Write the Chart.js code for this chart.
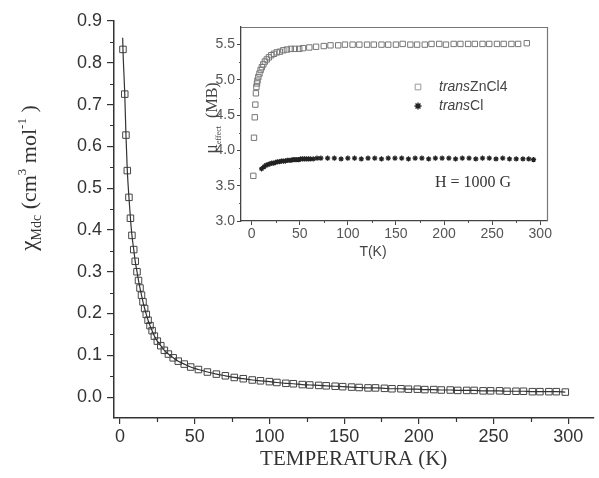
<!DOCTYPE html>
<html lang="es">
<head>
<meta charset="UTF-8">
<title>Susceptibilidad magnetica vs temperatura</title>
<script src="https://cdn.jsdelivr.net/npm/chart.js"></script>
<style>
  body { margin: 0; background: #fff; }
  #wrap { position: relative; width: 599px; height: 478px; }
  #main { position: absolute; left: 0; top: 0; }
  #inset { position: absolute; left: 195px; top: 15px; }
</style>
</head>
<body>
<div id="wrap">
  <canvas id="main" width="599" height="478"></canvas>
  <canvas id="inset" width="370" height="250"></canvas>
</div>

<script>
// main plot: chi_M vs T
const mainT = [2.0, 3.2, 4.0, 4.9, 6.0, 7.0, 8.0, 9.2, 10.2, 11.4, 12.4, 13.4, 14.4, 15.4, 16.5, 17.6, 18.8, 20.1, 21.5, 23.0,
  25.0, 27.3, 29.7, 32.4, 35.6, 39.0, 43.0, 47.3, 52.5, 58.5, 64.5, 70.5, 76.5, 82.5, 88.5,
  94, 100, 105, 111, 116, 122, 127, 133, 138, 144, 149, 155, 160, 166, 171, 177, 182, 188, 193, 199,
  204, 210, 215, 221, 226, 232, 237, 243, 248, 254, 259, 265, 270, 276, 281, 287, 292, 298];
const mainChi = [0.832, 0.725, 0.627, 0.542, 0.478, 0.428, 0.387, 0.353, 0.325, 0.300, 0.279, 0.261, 0.244, 0.228, 0.212, 0.198, 0.184, 0.171, 0.159, 0.146,
  0.134, 0.123, 0.112, 0.103, 0.094, 0.086, 0.079, 0.072, 0.066, 0.060, 0.055, 0.051, 0.047, 0.044, 0.041,
  0.039, 0.037, 0.035, 0.033, 0.032, 0.030, 0.029, 0.028, 0.027, 0.026, 0.025, 0.024, 0.023, 0.022, 0.022, 0.021, 0.020, 0.020, 0.019, 0.019,
  0.018, 0.018, 0.017, 0.017, 0.016, 0.016, 0.016, 0.015, 0.015, 0.015, 0.014, 0.014, 0.014, 0.013, 0.013, 0.013, 0.013, 0.012];
// fitted curve starts a little above the first point
const fitT = [1.8].concat(mainT);
const fitChi = [0.86].concat(mainChi);

const mainXTicks = [0, 50, 100, 150, 200, 250, 300];
const mainXMinor = [25, 75, 125, 175, 225, 275];
const mainYTicks = [0.0, 0.1, 0.2, 0.3, 0.4, 0.5, 0.6, 0.7, 0.8, 0.9];
const mainYMinor = [0.05, 0.15, 0.25, 0.35, 0.45, 0.55, 0.65, 0.75, 0.85];

// inset: mu_eff vs T
const znT = [1.8, 2.5, 3.3, 3.9, 4.5, 5.0, 5.6, 6.1, 7.0, 8.2, 9.4, 10.7, 12.2, 13.8, 15.8, 18.0, 20.5, 23.2, 26.2, 29.4,
  33.0, 36.7, 40.8, 45.0, 49.5, 53.4, 60, 67, 75, 82, 90, 97, 105, 112, 120, 127, 135, 142, 150, 157,
  165, 172, 180, 187, 195, 202, 210, 217, 225, 232, 240, 247, 255, 262, 270, 277, 286];
const znMu = [3.64, 4.18, 4.47, 4.65, 4.81, 4.90, 4.95, 4.99, 5.04, 5.09, 5.14, 5.18, 5.22, 5.26, 5.29, 5.32, 5.35, 5.37, 5.39, 5.40,
  5.42, 5.43, 5.44, 5.44, 5.44, 5.45, 5.46, 5.47, 5.48, 5.49, 5.49, 5.50, 5.50, 5.50, 5.50, 5.50, 5.50, 5.50, 5.50, 5.51,
  5.50, 5.50, 5.50, 5.51, 5.51, 5.50, 5.51, 5.51, 5.51, 5.51, 5.51, 5.51, 5.51, 5.51, 5.51, 5.51, 5.52];
const clT = [10.4, 13, 15, 17, 19, 21, 23, 25, 27, 29, 31, 33, 35, 37, 39, 41, 43, 45, 47, 49,
  51, 53, 55, 57, 59, 61, 64, 68, 72, 79, 86, 93, 100, 107, 114, 121, 128, 135, 142, 149,
  156, 163, 170, 177, 184, 191, 198, 205, 212, 219, 226, 233, 240, 247, 254, 261, 268, 275, 282, 288, 293];
const clMu = [3.74, 3.77, 3.79, 3.80, 3.81, 3.82, 3.82, 3.83, 3.84, 3.84, 3.85, 3.85, 3.85, 3.86, 3.86, 3.86, 3.87, 3.87, 3.87, 3.87,
  3.88, 3.88, 3.88, 3.88, 3.88, 3.88, 3.88, 3.89, 3.89, 3.89, 3.89, 3.88, 3.89, 3.89, 3.88, 3.89, 3.89, 3.88, 3.89, 3.89,
  3.89, 3.88, 3.89, 3.89, 3.88, 3.89, 3.89, 3.89, 3.88, 3.89, 3.89, 3.88, 3.89, 3.89, 3.88, 3.89, 3.88, 3.88, 3.88, 3.88, 3.87];

const insetXTicks = [0, 50, 100, 150, 200, 250, 300];
const insetXMinor = [25, 75, 125, 175, 225, 275];
const insetYTicks = [3.0, 3.5, 4.0, 4.5, 5.0, 5.5];
const insetYMinor = [3.25, 3.75, 4.25, 4.75, 5.25];

const SANS = 'Liberation Sans, Arial, sans-serif';
const SERIF = 'Liberation Serif, Times New Roman, serif';

function pts(xs, ys) {
  return xs.map((x, i) => ({ x: x, y: ys[i] }));
}

// short ticks between the labelled ones
const minorTicks = {
  id: 'minorTicks',
  afterDraw(chart, args, o) {
    const { ctx, chartArea: a, scales } = chart;
    ctx.save();
    ctx.strokeStyle = o.color;
    ctx.lineWidth = o.width;
    ctx.beginPath();
    o.x.forEach(v => {
      const px = Math.round(scales.x.getPixelForValue(v)) + 0.5;
      ctx.moveTo(px, a.bottom);
      ctx.lineTo(px, a.bottom + o.len);
    });
    o.y.forEach(v => {
      const py = Math.round(scales.y.getPixelForValue(v)) + 0.5;
      ctx.moveTo(a.left, py);
      ctx.lineTo(a.left - o.len, py);
    });
    ctx.stroke();
    ctx.restore();
  }
};

// text made of pieces with sub/superscripts, optionally rotated
function richText(ctx, cx, cy, parts, rotated, color) {
  ctx.save();
  ctx.fillStyle = color;
  ctx.textBaseline = 'alphabetic';
  let total = 0;
  parts.forEach(p => {
    ctx.font = (p.italic ? 'italic ' : '') + p.size + 'px ' + p.family;
    p.w = ctx.measureText(p.t).width;
    total += p.w;
  });
  ctx.translate(cx, cy);
  if (rotated) ctx.rotate(-Math.PI / 2);
  let x = -total / 2;
  parts.forEach(p => {
    ctx.font = (p.italic ? 'italic ' : '') + p.size + 'px ' + p.family;
    ctx.fillText(p.t, x, p.dy || 0);
    x += p.w;
  });
  ctx.restore();
}

const mainTitle = {
  id: 'mainTitle',
  afterDraw(chart) {
    richText(chart.ctx, 36, 178, [
      { t: 'χ', size: 23, family: SERIF },
      { t: 'Mdc', size: 14, family: SERIF, dy: 5 },
      { t: ' (cm', size: 22, family: SERIF },
      { t: '3', size: 13, family: SERIF, dy: -10 },
      { t: ' mol', size: 22, family: SERIF },
      { t: '-1', size: 13, family: SERIF, dy: -10 },
      { t: ' )', size: 22, family: SERIF }
    ], true, '#333');
  }
};

new Chart(document.getElementById('main'), {
  type: 'scatter',
  data: {
    datasets: [
      {
        data: pts(fitT, fitChi),
        showLine: true,
        pointRadius: 0,
        borderColor: '#333',
        borderWidth: 1.2,
        cubicInterpolationMode: 'monotone'
      },
      {
        data: pts(mainT, mainChi),
        pointStyle: 'rect',
        pointRadius: 4.6,
        borderColor: '#444',
        backgroundColor: 'rgba(0,0,0,0)',
        borderWidth: 1
      }
    ]
  },
  options: {
    responsive: false,
    animation: false,
    layout: { padding: { top: 21, right: 0, left: 0, bottom: 0 } },
    plugins: {
      legend: { display: false },
      tooltip: { enabled: false },
      minorTicks: { x: mainXMinor, y: mainYMinor, len: 4, color: '#333', width: 1.2 }
    },
    scales: {
      x: {
        type: 'linear', min: -4, max: 316.8,
        afterBuildTicks: s => { s.ticks = mainXTicks.map(v => ({ value: v })); },
        afterFit: s => { s.height = 60; },
        grid: { drawOnChartArea: false, tickLength: 6, color: '#333', lineWidth: 1.2 },
        border: { color: '#333', width: 1.5 },
        ticks: { font: { family: SANS, size: 18 }, color: '#333', padding: 2, maxRotation: 0,
          callback: v => String(v) },
        title: { display: true, text: 'TEMPERATURA (K)', color: '#333',
          font: { family: SERIF, size: 21 }, padding: { top: 0, bottom: 6 } }
      },
      y: {
        min: -0.05, max: 0.9,
        afterBuildTicks: s => { s.ticks = mainYTicks.map(v => ({ value: v })); },
        afterFit: s => { s.width = 114; },
        grid: { drawOnChartArea: false, tickLength: 7, color: '#333', lineWidth: 1.2 },
        border: { color: '#333', width: 1.5 },
        ticks: { font: { family: SANS, size: 18 }, color: '#333', padding: 5,
          callback: v => v.toFixed(1) }
      }
    }
  },
  plugins: [minorTicks, mainTitle]
});

// inset extras: box, legend, labels
const insetDeco = {
  id: 'insetDeco',
  afterDraw(chart) {
    const { ctx, chartArea: a } = chart;
    ctx.save();
    ctx.strokeStyle = '#777';
    ctx.lineWidth = 1.2;
    ctx.beginPath();
    ctx.moveTo(a.left, a.top + 0.5);
    ctx.lineTo(a.right + 0.5, a.top + 0.5);
    ctx.lineTo(a.right + 0.5, a.bottom);
    ctx.stroke();

    // legend
    const h = Chart.helpers;
    ctx.fillStyle = 'rgba(0,0,0,0)';
    ctx.strokeStyle = '#999';
    ctx.lineWidth = 1;
    h.drawPoint(ctx, { pointStyle: 'rect', radius: 4, borderWidth: 1 }, 223, 72);
    ctx.strokeStyle = '#222';
    ctx.lineWidth = 1.4;
    h.drawPoint(ctx, { pointStyle: 'star', radius: 3.5, borderWidth: 1.4 }, 223, 91);

    ctx.fillStyle = '#444';
    ctx.textBaseline = 'middle';
    ctx.font = 'italic 14px ' + SANS;
    ctx.fillText('trans', 244, 72);
    let w = ctx.measureText('trans').width;
    ctx.font = '14px ' + SANS;
    ctx.fillText('ZnCl4', 244 + w, 72);
    ctx.font = 'italic 14px ' + SANS;
    ctx.fillText('trans', 244, 91);
    ctx.font = '14px ' + SANS;
    ctx.fillText('Cl', 244 + w, 91);

    ctx.textAlign = 'center';
    ctx.font = '16px ' + SERIF;
    ctx.fillStyle = '#333';
    ctx.fillText('H = 1000 G', 278, 168);

    ctx.font = '14px ' + SANS;
    ctx.fillStyle = '#444';
    ctx.fillText('T(K)', 178, 237);
    ctx.restore();

    richText(ctx, 22, 103, [
      { t: 'μ', size: 18, family: SERIF },
      { t: 'effect', size: 8, family: SERIF, dy: 4 },
      { t: '  (MB)', size: 16, family: SERIF }
    ], true, '#444');
  }
};

new Chart(document.getElementById('inset'), {
  type: 'scatter',
  data: {
    datasets: [
      {
        data: pts(znT, znMu),
        pointStyle: 'rect',
        pointRadius: 3.8,
        borderColor: '#777',
        backgroundColor: 'rgba(0,0,0,0)',
        borderWidth: 1
      },
      {
        data: pts(clT, clMu),
        pointStyle: 'star',
        pointRadius: 2.6,
        borderColor: '#222',
        borderWidth: 1.2
      }
    ]
  },
  options: {
    responsive: false,
    animation: false,
    layout: { padding: { top: 12, right: 18, left: 0, bottom: 0 } },
    plugins: {
      legend: { display: false },
      tooltip: { enabled: false },
      minorTicks: { x: insetXMinor, y: insetYMinor, len: 2, color: '#555', width: 1 }
    },
    scales: {
      x: {
        type: 'linear', min: -11, max: 307,
        afterBuildTicks: s => { s.ticks = insetXTicks.map(v => ({ value: v })); },
        afterFit: s => { s.height = 44; },
        grid: { drawOnChartArea: false, tickLength: 4, color: '#444', lineWidth: 1 },
        border: { color: '#444', width: 1.3 },
        ticks: { font: { family: SANS, size: 14 }, color: '#555', padding: 1, maxRotation: 0,
          callback: v => String(v) }
      },
      y: {
        min: 3.0, max: 5.75,
        afterBuildTicks: s => { s.ticks = insetYTicks.map(v => ({ value: v })); },
        afterFit: s => { s.width = 46; },
        grid: { drawOnChartArea: false, tickLength: 4, color: '#444', lineWidth: 1 },
        border: { color: '#444', width: 1.3 },
        ticks: { font: { family: SANS, size: 14 }, color: '#555', padding: 2,
          callback: v => v.toFixed(1) }
      }
    }
  },
  plugins: [minorTicks, insetDeco]
});
</script>
</body>
</html>
